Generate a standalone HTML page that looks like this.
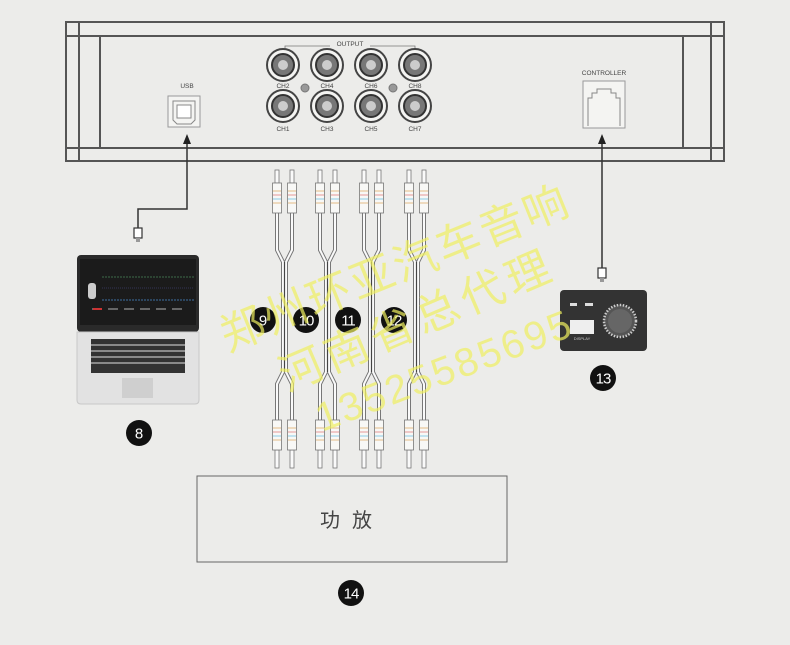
<!DOCTYPE html>
<html><head><meta charset="utf-8"><style>
html,body{margin:0;padding:0;background:#ececea;}
svg{display:block;font-family:"Liberation Sans","Noto Sans CJK SC",sans-serif;}
</style></head><body>
<svg id="s" width="790" height="645" viewBox="0 0 790 645" xmlns="http://www.w3.org/2000/svg">
<rect width="790" height="645" fill="#ececea"/>
<g fill="none" stroke="#555" stroke-width="2">
<rect x="66" y="22" width="658" height="139"/>
<line x1="66" y1="36" x2="724" y2="36"/>
<line x1="66" y1="148" x2="724" y2="148"/>
<line x1="79" y1="22" x2="79" y2="161"/>
<line x1="711" y1="22" x2="711" y2="161"/>
<line x1="100" y1="36" x2="100" y2="148"/>
<line x1="683" y1="36" x2="683" y2="148"/>
</g>
<g font-size="6.5" fill="#444" text-anchor="middle">
<text x="350" y="46">OUTPUT</text>
<text x="187" y="88">USB</text>
<text x="604" y="75">CONTROLLER</text>
</g>
<path d="M285 52 V46 H330 M370 46 H415 V52" fill="none" stroke="#777" stroke-width="0.8"/>
<g id="jacks"></g>
<rect x="168" y="96" width="32" height="31" fill="#f4f4f2" stroke="#999"/>
<path d="M173 101 H195 V120 L191 124 H177 L173 120 Z" fill="none" stroke="#888"/>
<rect x="177" y="105" width="14" height="13" fill="#fff" stroke="#888"/>
<rect x="583" y="81" width="42" height="47" fill="#f4f4f2" stroke="#999"/>
<path d="M588 126 V98 H592 V93 H597 V89 H611 V93 H616 V98 H620 V126" fill="none" stroke="#888"/>
<g fill="none" stroke="#333" stroke-width="1.5">
<path d="M187 140 V209 H138 V228"/>
<path d="M602 140 V268"/>
</g>
<path d="M183 144 L187 134 L191 144 Z" fill="#222"/>
<path d="M598 144 L602 134 L606 144 Z" fill="#222"/>
<g fill="#fff" stroke="#333" stroke-width="1.2">
<rect x="134" y="228" width="8" height="10"/>
<rect x="598" y="268" width="8" height="10"/>
</g>
<rect x="136" y="238" width="4" height="4" fill="#999"/>
<rect x="600" y="278" width="4" height="4" fill="#999"/>
<rect x="77" y="255" width="122" height="77" rx="4" fill="#2a2a2a"/>
<rect x="80" y="259" width="116" height="66" fill="#1b1b1b"/>
<g stroke-width="1">
<line x1="102" y1="277" x2="194" y2="277" stroke="#3c6b4a" stroke-dasharray="2 1"/>
<line x1="102" y1="288" x2="194" y2="288" stroke="#335" stroke-dasharray="1 1"/>
<line x1="102" y1="300" x2="194" y2="300" stroke="#3c6fa0" stroke-dasharray="2 1"/>
</g>
<rect x="88" y="283" width="8" height="16" rx="3" fill="#ccc"/>
<g fill="#666"><rect x="92" y="308" width="10" height="2"/><rect x="108" y="308" width="10" height="2"/><rect x="124" y="308" width="10" height="2"/><rect x="140" y="308" width="10" height="2"/><rect x="156" y="308" width="10" height="2"/><rect x="172" y="308" width="10" height="2"/></g>
<rect x="93" y="308" width="9" height="2" fill="#c33"/>
<path d="M77 332 H199 V400 Q199 404 195 404 H81 Q77 404 77 400 Z" fill="#e2e2e2" stroke="#c8c8c8"/>
<rect x="91" y="339" width="94" height="34" fill="#333"/>
<g stroke="#e2e2e2" stroke-width="1"><line x1="91" y1="345" x2="185" y2="345"/><line x1="91" y1="351" x2="185" y2="351"/><line x1="91" y1="357" x2="185" y2="357"/><line x1="91" y1="363" x2="185" y2="363"/></g>
<rect x="122" y="378" width="31" height="20" fill="#cfcfcf"/>
<rect x="560" y="290" width="87" height="61" rx="4" fill="#333"/>
<rect x="570" y="303" width="7" height="3" fill="#ddd"/><rect x="585" y="303" width="8" height="3" fill="#ddd"/>
<rect x="570" y="320" width="24" height="14" fill="#eee"/>
<text x="582" y="340" font-size="4" fill="#ccc" text-anchor="middle">DISPLAY</text>
<circle cx="620" cy="321" r="16" fill="#555" stroke="#ccc" stroke-width="2.5" stroke-dasharray="1.5 1.5"/>
<circle cx="620" cy="321" r="12" fill="#666"/>
<g id="rca"></g>
<rect x="197" y="476" width="310" height="86" fill="none" stroke="#666" stroke-width="1"/>
<text x="352" y="527" font-size="20" fill="#444" text-anchor="middle" letter-spacing="12">功放</text>
<g id="badges" font-size="15" fill="#fff" text-anchor="middle"></g>
<g fill="#f0f060" fill-opacity="0.7" font-family="'Noto Sans CJK SC',sans-serif" font-size="44">
<text transform="translate(228,352) rotate(-22)" textLength="370">郑州环亚汽车音响</text>
<text transform="translate(287,392) rotate(-23)" textLength="290">河南省总代理</text>
<text transform="translate(322,432) rotate(-21)" font-family="'Liberation Sans',sans-serif" font-size="40" textLength="270">13525585695</text>
</g>
</svg>
<script>
var NS="http://www.w3.org/2000/svg";
function el(p,t,a){var e=document.createElementNS(NS,t);for(var k in a)e.setAttribute(k,a[k]);p.appendChild(e);return e;}
var J=document.getElementById('jacks');
var jx=[283,327,371,415];
var tl=["CH2","CH4","CH6","CH8"],bl=["CH1","CH3","CH5","CH7"];
jx.forEach(function(x,i){
 [[65,tl[i],88],[106,bl[i],131]].forEach(function(r){
  el(J,'circle',{cx:x,cy:r[0],r:16,fill:'#f4f4f2',stroke:'#444','stroke-width':2});
  el(J,'circle',{cx:x,cy:r[0],r:11,fill:'#777',stroke:'#333','stroke-width':2});
  el(J,'circle',{cx:x,cy:r[0],r:5,fill:'#ccc'});
  var t=el(J,'text',{x:x,y:r[2],'font-size':6.5,fill:'#444','text-anchor':'middle'});t.textContent=r[1];
 });
});
[305,393].forEach(function(x){el(J,'circle',{cx:x,cy:88,r:4,fill:'#999',stroke:'#777'});});
var R=document.getElementById('rca');
var pairs=[[277,292],[320,335],[364,379],[409,424]];
function plug(x,y1){
 el(R,'rect',{x:x-4.5,y:y1,width:9,height:30,fill:'#f8f8f6',stroke:'#777','stroke-width':0.8});
 [['#e8c79a',8],['#e9a8a8',12],['#9fd3e8',16],['#e8c79a',20]].forEach(function(s){el(R,'line',{x1:x-4,x2:x+4,y1:y1+s[1],y2:y1+s[1],stroke:s[0],'stroke-width':1.2});});
}
pairs.forEach(function(p){
 var c=(p[0]+p[1])/2;
 p.forEach(function(x,j){
  var m=c+(j?1.5:-1.5);
  var d="M"+x+" 213 V250 L"+m+" 262 V372 L"+x+" 384 V420";
  el(R,'path',{d:d,fill:'none',stroke:'#777','stroke-width':4});
  el(R,'path',{d:d,fill:'none',stroke:'#fafafa','stroke-width':2});
  el(R,'rect',{x:x-2,y:170,width:4,height:13,fill:'#fafafa',stroke:'#777','stroke-width':0.8});
  el(R,'rect',{x:x-2,y:450,width:4,height:18,fill:'#fafafa',stroke:'#777','stroke-width':0.8});
  plug(x,183);plug(x,420);
 });
 el(R,'line',{x1:c,x2:c,y1:262,y2:372,stroke:'#444','stroke-width':1.2});
});
var B=document.getElementById('badges');
[[139,433,"8"],[263,320,"9"],[306,320,"10"],[348,320,"11"],[394,320,"12"],[603,378,"13"],[351,593,"14"]].forEach(function(b){
 el(B,'circle',{cx:b[0],cy:b[1],r:13,fill:'#111'});
 var t=el(B,'text',{x:b[0],y:b[1]+5.5});t.textContent=b[2];
 if(b[2].length>1)t.setAttribute('letter-spacing','-1');
});
</script>
</body></html>
